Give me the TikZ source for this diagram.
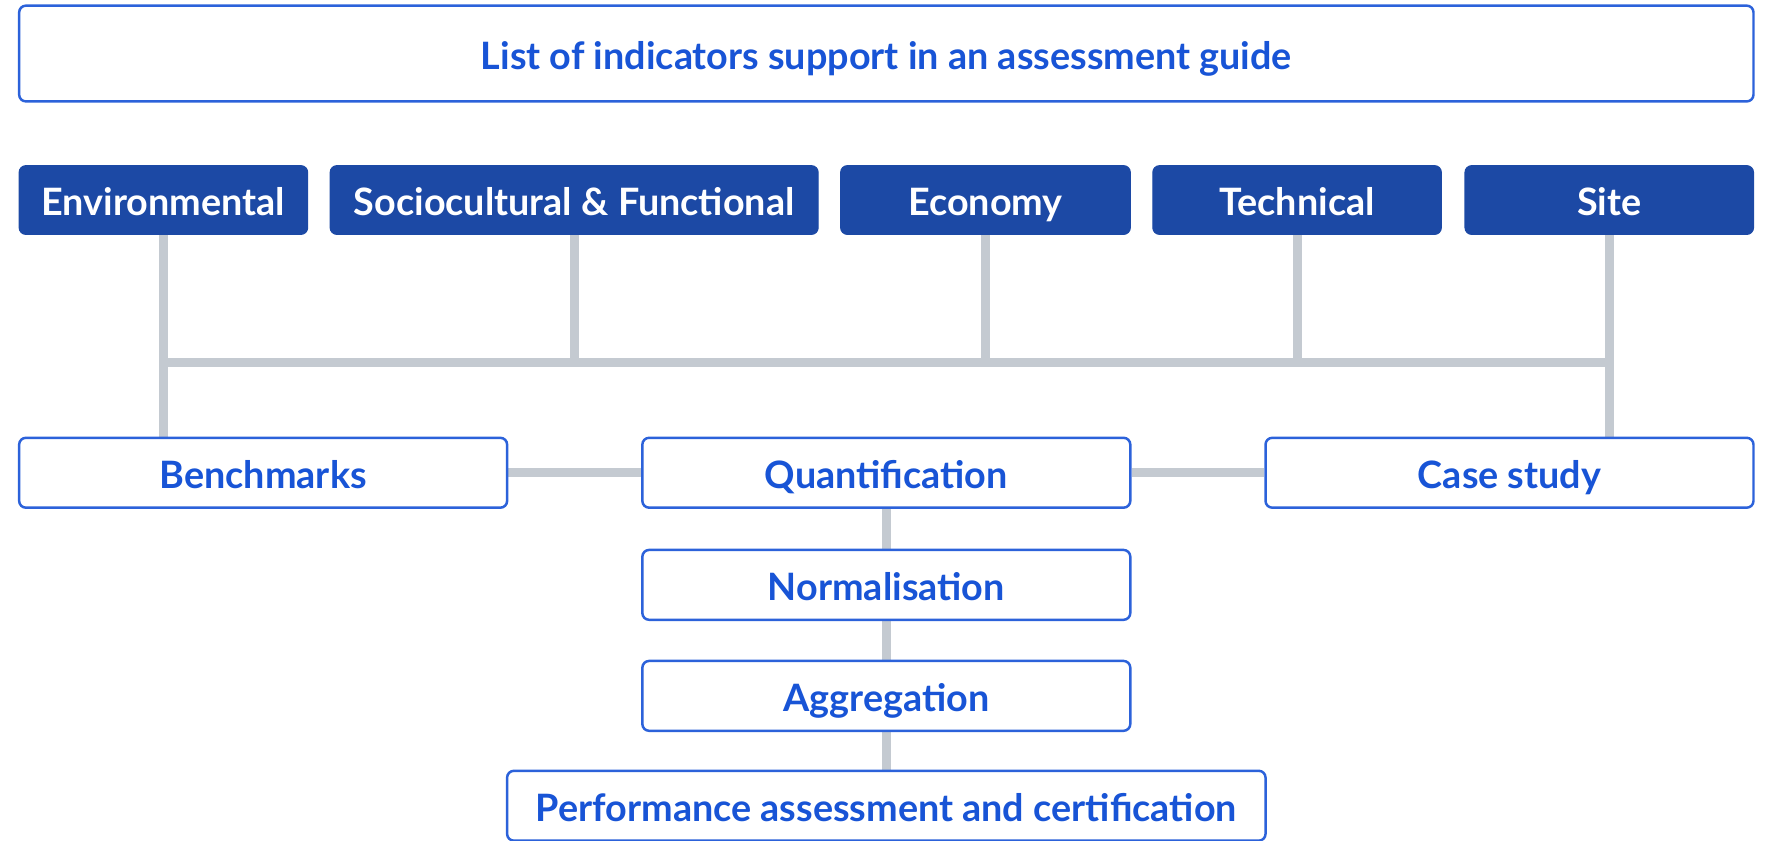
\documentclass[tikz,border=0pt]{standalone}
\usepackage{fontspec}
\setmainfont{Lato}
\usepackage{tikz}
\pgfdeclarelayer{edgelayer}
\pgfdeclarelayer{nodelayer}
\pgfsetlayers{edgelayer,nodelayer,main}
\definecolor{darkblue}{RGB}{28,73,165}
\definecolor{lineblue}{RGB}{44,98,218}
\definecolor{textblue}{RGB}{24,84,214}
\definecolor{bargray}{RGB}{196,202,209}
\tikzstyle{box}=[rectangle,rounded corners=6pt,inner sep=0pt,font=\bfseries\fontsize{33.5}{38}\selectfont,text height=30pt,text depth=2pt]
\tikzstyle{category}=[box,fill=darkblue,draw=darkblue,line width=1pt,text=white,minimum height=61pt]
\tikzstyle{stage}=[box,fill=white,draw=lineblue,line width=2.2pt,text=textblue,minimum height=62pt]
\tikzstyle{link}=[draw=bargray,line width=8pt]

\begin{document}
\begin{tikzpicture}[x=1pt,y=-1pt]
	\useasboundingbox (0, 0) rectangle (1568, 746);
	\begin{pgfonlayer}{nodelayer}
		\node [style=stage, minimum width=1539pt, minimum height=85pt] (0) at (786.5, 47.5) {List of indicators support in an assessment guide};
		\node [style=category, minimum width=256pt] (1) at (145, 177.5) {Environmental};
		\node [style=category, minimum width=433pt] (2) at (509.5, 177.5) {Sociocultural \& Functional};
		\node [style=category, minimum width=257pt] (3) at (874.5, 177.5) {Economy};
		\node [style=category, minimum width=256pt] (4) at (1151, 177.5) {Technical};
		\node [style=category, minimum width=256pt] (5) at (1428, 177.5) {Site};
		\node [style=stage, minimum width=433pt] (6) at (233.5, 419.5) {Benchmarks};
		\node [style=stage, minimum width=433pt] (7) at (786.5, 419.5) {Quantification};
		\node [style=stage, minimum width=433pt] (8) at (1339.5, 419.5) {Case study};
		\node [style=stage, minimum width=433pt] (9) at (786.5, 519) {Normalisation};
		\node [style=stage, minimum width=433pt] (10) at (786.5, 617.5) {Aggregation};
		\node [style=stage, minimum width=673pt] (11) at (786.5, 715) {Performance assessment and certification};
	\end{pgfonlayer}
	\begin{pgfonlayer}{edgelayer}
		\coordinate (bus) at (0, 322);
		\draw [style=link] (1.south) -- (1.south |- 6.north);
		\draw [style=link] (5.south) -- (5.south |- 8.north);
		\draw [style=link] (2.south) -- (2.south |- bus);
		\draw [style=link] (3.south) -- (3.south |- bus);
		\draw [style=link] (4.south) -- (4.south |- bus);
		\draw [style=link] (1.south |- bus) -- (5.south |- bus);
		\draw [style=link] (6) -- (7);
		\draw [style=link] (7) -- (8);
		\draw [style=link] (7) -- (9);
		\draw [style=link] (9) -- (10);
		\draw [style=link] (10) -- (11);
	\end{pgfonlayer}
\end{tikzpicture}
\end{document}
